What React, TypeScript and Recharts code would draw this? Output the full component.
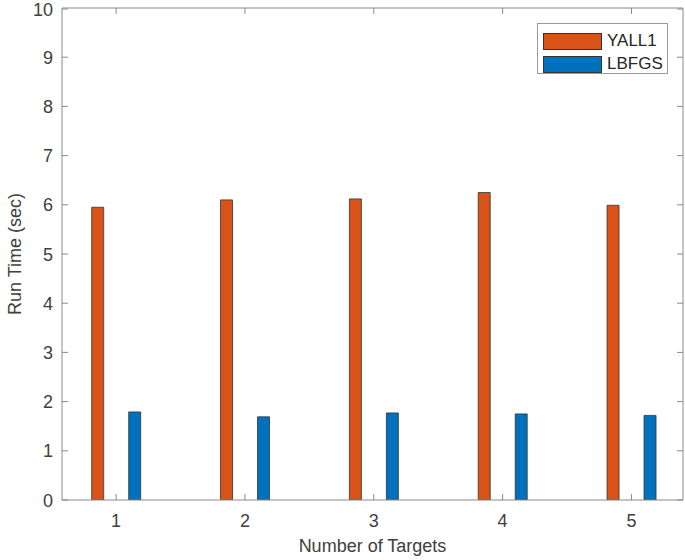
import React from 'react';
import { BarChart, Bar, XAxis, YAxis, Legend } from 'recharts';

const targets = [1, 2, 3, 4, 5];
const yall1Times = [5.95, 6.1, 6.12, 6.25, 5.99];
const lbfgsTimes = [1.79, 1.69, 1.77, 1.75, 1.72];
const yTicks = [0, 1, 2, 3, 4, 5, 6, 7, 8, 9, 10];

const series = [
    { key: 'yall1', name: 'YALL1', color: '#D95319' },
    { key: 'lbfgs', name: 'LBFGS', color: '#0072BD' },
];

const data = targets.map((n, i) => ({ n, yall1: yall1Times[i], lbfgs: lbfgsTimes[i] }));

const FONT = '"Liberation Sans", Arial, Helvetica, sans-serif';
const AXIS = '#8a8a8a';
const TEXT = '#404040';

const BottomTick = (props: any) => {
    const { x, y, payload } = props;
    return (
        <g>
            <line x1={x} y1={y} x2={x} y2={y - 6} stroke={AXIS} />
            <text x={x} y={y + 27} textAnchor="middle" fill={TEXT} fontSize={18} fontFamily={FONT}>
                {payload.value}
            </text>
        </g>
    );
};

const TopTick = (props: any) => (
    <line x1={props.x} y1={props.y} x2={props.x} y2={props.y + 6} stroke={AXIS} />
);

const LeftTick = (props: any) => {
    const { x, y, payload } = props;
    return (
        <g>
            <line x1={x} y1={y} x2={x + 6} y2={y} stroke={AXIS} />
            <text x={x - 9} y={y + 6.5} textAnchor="end" fill={TEXT} fontSize={18} fontFamily={FONT}>
                {payload.value}
            </text>
        </g>
    );
};

const RightTick = (props: any) => (
    <line x1={props.x} y1={props.y} x2={props.x - 6} y2={props.y} stroke={AXIS} />
);

const LegendBox = () => (
    <div style={{ border: '1px solid #9a9a9a', background: '#fff', padding: '7px 0 0 5px', boxSizing: 'border-box', width: 131, height: 51 }}>
        {series.map((s) => (
            <div key={s.key} style={{ display: 'flex', alignItems: 'center', height: 20, marginBottom: 3 }}>
                <span style={{ display: 'inline-block', width: 57, height: 15, background: s.color, border: '1px solid #333', marginRight: 5 }} />
                <span style={{ fontFamily: FONT, fontSize: 17, color: '#262626' }}>{s.name}</span>
            </div>
        ))}
    </div>
);

const App = () => {
    return (
        <div style={{ position: 'absolute', left: 0, top: 0, background: '#fff' }}>
            <BarChart width={685} height={560} data={data} margin={{ top: 7, right: 1, left: 0, bottom: 0 }} barGap={25}>
                <XAxis
                    xAxisId="b"
                    type="number"
                    dataKey="n"
                    domain={[0.58, 5.4]}
                    ticks={targets}
                    allowDataOverflow
                    height={60}
                    tickSize={0}
                    tickMargin={0}
                    tickLine={false}
                    tick={<BottomTick />}
                    stroke={AXIS}
                    label={{ value: 'Number of Targets', position: 'insideBottom', offset: 8, fill: TEXT, fontSize: 18, fontFamily: FONT }}
                />
                <XAxis
                    xAxisId="t"
                    orientation="top"
                    type="number"
                    dataKey="n"
                    domain={[0.58, 5.4]}
                    ticks={targets}
                    allowDataOverflow
                    height={1}
                    tickSize={0}
                    tickMargin={0}
                    tickLine={false}
                    tick={<TopTick />}
                    stroke={AXIS}
                />
                <YAxis
                    yAxisId="l"
                    domain={[0, 10]}
                    ticks={yTicks}
                    allowDataOverflow
                    width={62}
                    tickSize={0}
                    tickMargin={0}
                    tickLine={false}
                    tick={<LeftTick />}
                    stroke={AXIS}
                    label={{ value: 'Run Time (sec)', angle: -90, position: 'insideLeft', offset: 15, style: { textAnchor: 'middle' }, fill: TEXT, fontSize: 18, fontFamily: FONT }}
                />
                <YAxis
                    yAxisId="r"
                    orientation="right"
                    domain={[0, 10]}
                    ticks={yTicks}
                    allowDataOverflow
                    width={1}
                    tickSize={0}
                    tickMargin={0}
                    tickLine={false}
                    tick={<RightTick />}
                    stroke={AXIS}
                />
                {series.map((s) => (
                    <Bar
                        key={s.key}
                        xAxisId="b"
                        yAxisId="l"
                        dataKey={s.key}
                        name={s.name}
                        fill={s.color}
                        stroke="#333"
                        strokeWidth={0.8}
                        barSize={12}
                        isAnimationActive={false}
                    />
                ))}
                {/* empty series so the top and right box axes get drawn */}
                <Bar
                    xAxisId="t"
                    yAxisId="r"
                    dataKey={() => 0}
                    fill="none"
                    stroke="none"
                    legendType="none"
                    isAnimationActive={false}
                />
                <Legend
                    layout="horizontal"
                    align="center"
                    verticalAlign="middle"
                    content={<LegendBox />}
                    wrapperStyle={{ top: 23, left: 537, width: 131, height: 51 }}
                />
            </BarChart>
        </div>
    );
};

export default App;
